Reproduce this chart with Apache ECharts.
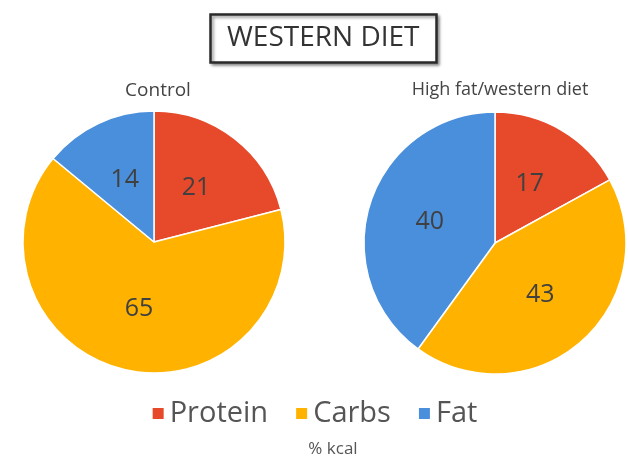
<!DOCTYPE html>
<html><head><meta charset="utf-8">
<script src="https://cdn.jsdelivr.net/npm/echarts@6/dist/echarts.min.js"></script>
<style>html,body{margin:0;padding:0;background:#fff;}#c{width:628px;height:462px;}</style>
</head><body><div id="c"></div>
<script>
const categories = ['Protein', 'Carbs', 'Fat'];
const controlValues = [21, 65, 14];
const westernValues = [17, 43, 40];
const colors = ['#E64A2A', '#FFB300', '#4A8FDB'];
const FONT = 'Open Sans';

const chart = echarts.init(document.getElementById('c'));
function mk(vals){ return categories.map((n,i)=>({name:n, value:vals[i]})); }
const pieCommon = {
  type: 'pie', radius: 131, startAngle: 90, clockwise: true,
  itemStyle: {borderColor: '#fff', borderWidth: 1.5},
  label: {show: true, position: 'inside', formatter: '{c}', fontSize: 25, color: '#404040', fontFamily: FONT},
  labelLine: {show: false}, emphasis: {disabled: true}, silent: true, animation: false
};
chart.setOption({
  animation: false,
  color: colors,
  title: [
    {text: 'WESTERN DIET', left: 210, top: 14, padding: [10, 17, 11, 17],
     borderColor: '#2a2a2a', borderWidth: 2.5,
     shadowColor: 'rgba(0,0,0,0.4)', shadowBlur: 3, shadowOffsetX: 2, shadowOffsetY: 2,
     backgroundColor: '#fff',
     textStyle: {fontSize: 28, fontWeight: 'normal', color: '#333', fontFamily: FONT}},
    {text: 'Control', left: 153, top: 76, textAlign: 'center',
     textStyle: {fontSize: 19, fontWeight: 'normal', color: '#444', fontFamily: FONT}},
    {text: 'High fat/western diet', left: 495, top: 76, textAlign: 'center',
     textStyle: {fontSize: 18, fontWeight: 'normal', color: '#444', fontFamily: FONT}},
    {text: '% kcal', left: 328, top: 436, textAlign: 'center',
     textStyle: {fontSize: 17, fontWeight: 'normal', color: '#555', fontFamily: FONT}}
  ],
  legend: {data: categories, top: 394, left: 'center', icon: 'rect', itemWidth: 13, itemHeight: 13, itemGap: 26,
    textStyle: {fontSize: 29, color: '#555', fontFamily: FONT}},
  series: [
    Object.assign({}, pieCommon, {name: 'Control', center: [154, 242], data: mk(controlValues)}),
    Object.assign({}, pieCommon, {name: 'High fat/western diet', center: [495, 243], data: mk(westernValues)})
  ]
});
</script></body></html>
